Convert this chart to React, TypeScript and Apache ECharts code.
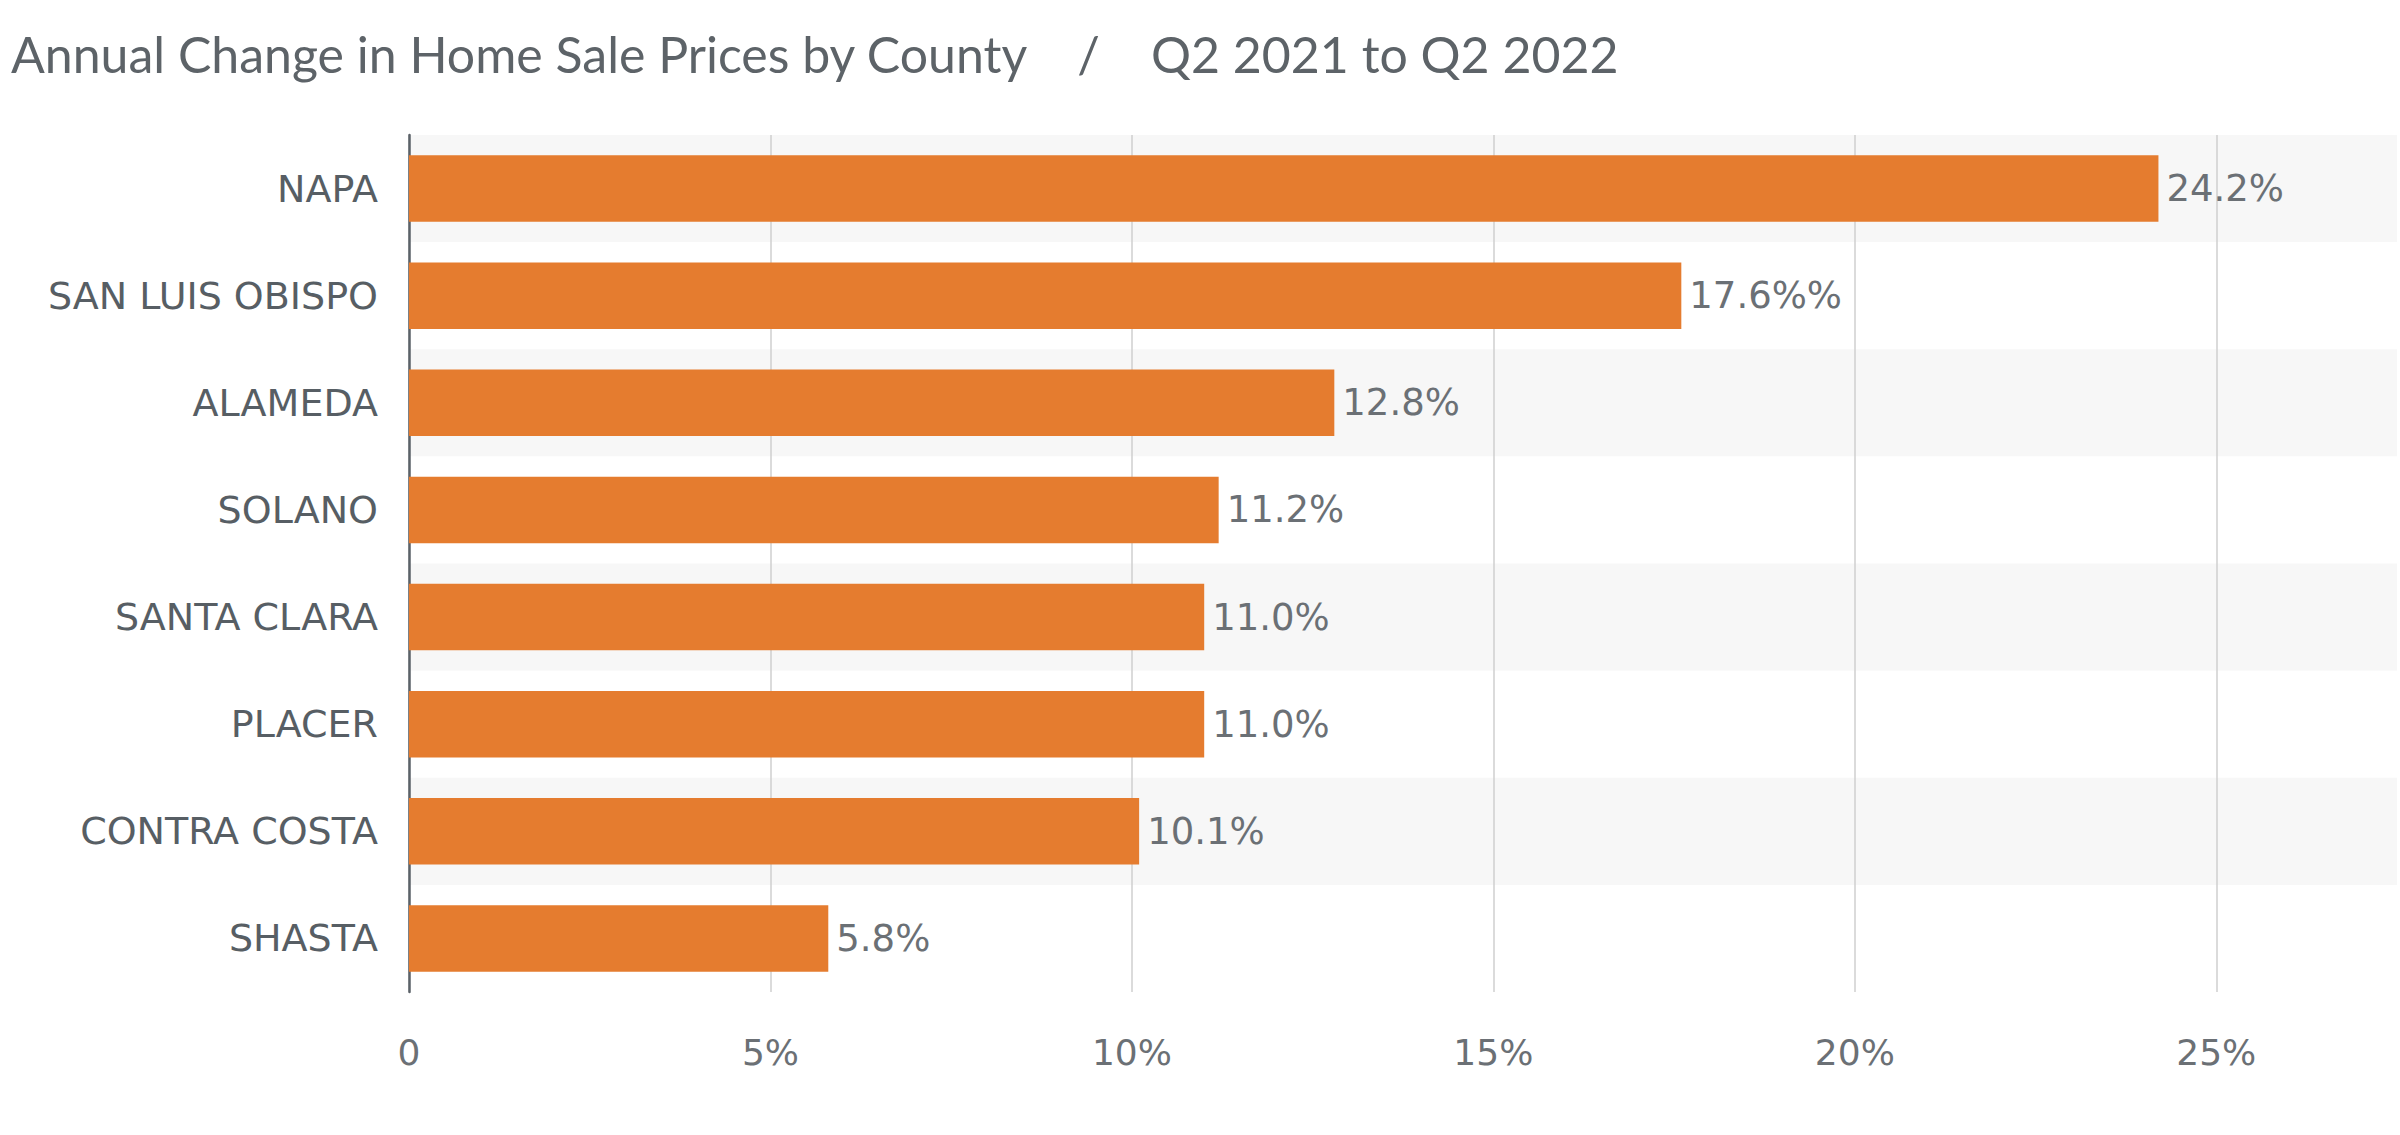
import React, { useEffect, useRef } from "react";
import * as echarts from "echarts";

const categories = ["NAPA", "SAN LUIS OBISPO", "ALAMEDA", "SOLANO", "SANTA CLARA", "PLACER", "CONTRA COSTA", "SHASTA"];
const values = [24.2, 17.6, 12.8, 11.2, 11.0, 11.0, 10.1, 5.8];
const valueLabels = ["24.2%", "17.6%%", "12.8%", "11.2%", "11.0%", "11.0%", "10.1%", "5.8%"];
const tickLabels: Record<number, string> = { 0: "0", 5: "5%", 10: "10%", 15: "15%", 20: "20%", 25: "25%" };

const titleText = "Annual Change in Home Sale Prices by County    /    Q2 2021 to Q2 2022";

export default function App() {
  const ref = useRef<HTMLDivElement>(null);
  useEffect(() => {
    const chart = echarts.init(ref.current!, null, { renderer: "svg" });
    const g = "#cfcfcf";
    chart.setOption({
      animation: false,
      backgroundColor: "#ffffff",
      title: {
        text: titleText,
        left: 6,
        top: 24,
        textStyle: { fontFamily: "Lato", fontSize: 50, fontWeight: "normal", color: "#5d6368" },
      },
      grid: { left: 409, right: 0, top: 135, bottom: 143 },
      xAxis: {
        type: "value",
        min: 0,
        max: 27.5,
        interval: 5,
        axisLine: { show: false },
        axisTick: { show: false },
        splitLine: { show: true, lineStyle: { color: [g, g, g, g, g, g, "rgba(0,0,0,0)"], width: 1.5 } },
        axisLabel: {
          margin: 42,
          fontFamily: "'DejaVu Sans', sans-serif",
          fontSize: 36,
          color: "#6b7075",
          formatter: (v: number) => (tickLabels[v] !== undefined ? tickLabels[v] : ""),
        },
      },
      yAxis: {
        type: "category",
        data: categories,
        inverse: true,
        axisLine: { show: true, lineStyle: { color: "#5b6268", width: 2.5 } },
        axisTick: { show: false },
        splitArea: { show: true, areaStyle: { color: ["#f7f7f7", "#ffffff"] } },
        axisLabel: {
          margin: 31,
          fontFamily: "'DejaVu Sans', sans-serif",
          fontSize: 38,
          color: "#575e64",
        },
      },
      series: [
        {
          type: "bar",
          data: values,
          barWidth: "62%",
          itemStyle: { color: "#E57C2F" },
          label: {
            show: true,
            position: "right",
            distance: 8,
            fontFamily: "'DejaVu Sans', sans-serif",
            fontSize: 37,
            color: "#6b7075",
            formatter: (p: any) => valueLabels[p.dataIndex],
          },
        },
      ],
    });
    return () => chart.dispose();
  }, []);
  return <div ref={ref} style={{ position: "fixed", left: 0, top: 0, width: 2400, height: 1135 }} />;
}
